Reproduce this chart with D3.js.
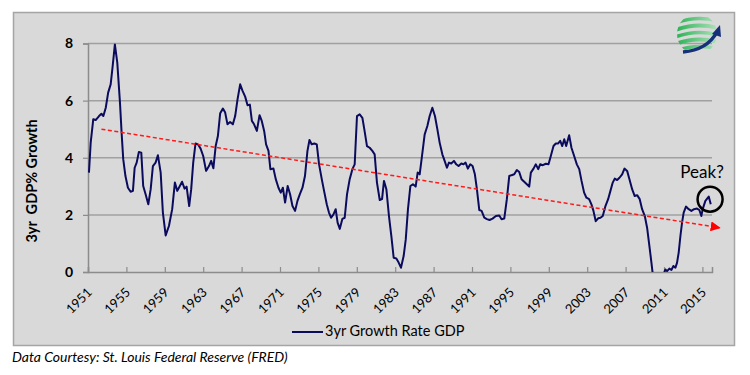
<!DOCTYPE html>
<html>
<head>
<meta charset="utf-8">
<script src="https://cdn.jsdelivr.net/npm/d3@7"></script>
<style>
  body { margin: 0; background: #fff; }
  #wrapper { width: 750px; height: 375px; }
  text { font-family: Lato, "Open Sans", sans-serif; }
</style>
</head>
<body>
<div id="wrapper"></div>
<script>
// data: 3yr growth rate of GDP (quarterly-ish points)
const years = [
  1951.1, 1951.28, 1951.55, 1951.8, 1952.15, 1952.4, 1952.6, 1952.85, 1953.1, 1953.36,
  1953.57, 1953.8, 1954.05, 1954.33, 1954.5, 1954.67, 1954.9, 1955.16, 1955.44, 1955.68,
  1955.86, 1956.07, 1956.3, 1956.55, 1956.75, 1957.0, 1957.28, 1957.53, 1957.76, 1958.04,
  1958.28, 1958.57, 1958.8, 1959.09, 1959.43, 1959.77, 1960.05, 1960.3, 1960.54, 1960.8,
  1961.06, 1961.27, 1961.54, 1961.75, 1961.96, 1962.2, 1962.45, 1962.73, 1963.0, 1963.3,
  1963.6, 1963.83, 1964.06, 1964.3, 1964.53, 1964.77, 1965.05, 1965.29, 1965.53, 1965.8,
  1966.09, 1966.33, 1966.58, 1966.85, 1967.1, 1967.37, 1967.62, 1967.86, 1968.07, 1968.3,
  1968.59, 1968.87, 1969.1, 1969.35, 1969.55, 1969.8, 1970.0, 1970.32, 1970.56, 1970.84,
  1971.08, 1971.3, 1971.53, 1971.8, 1972.05, 1972.3, 1972.57, 1972.82, 1973.06, 1973.34,
  1973.6, 1973.86, 1974.07, 1974.3, 1974.59, 1974.83, 1975.07, 1975.35, 1975.59, 1975.87,
  1976.1, 1976.32, 1976.57, 1976.8, 1977.0, 1977.23, 1977.5, 1977.74, 1977.98, 1978.26,
  1978.54, 1978.78, 1979.02, 1979.3, 1979.58, 1979.78, 1980.06, 1980.34, 1980.62, 1980.86,
  1981.1, 1981.39, 1981.63, 1981.83, 1982.08, 1982.35, 1982.6, 1982.84, 1983.12, 1983.36,
  1983.6, 1983.88, 1984.1, 1984.33, 1984.58, 1984.85, 1985.13, 1985.34, 1985.55, 1985.79,
  1986.07, 1986.35, 1986.59, 1986.87, 1987.14, 1987.39, 1987.63, 1987.91, 1988.15, 1988.39,
  1988.6, 1988.84, 1989.12, 1989.36, 1989.6, 1989.89, 1990.12, 1990.33, 1990.57, 1990.82,
  1991.06, 1991.3, 1991.51, 1991.76, 1992.0, 1992.28, 1992.55, 1992.83, 1993.14, 1993.49,
  1993.84, 1994.08, 1994.36, 1994.63, 1994.88, 1995.12, 1995.4, 1995.67, 1995.92, 1996.16,
  1996.44, 1996.71, 1996.96, 1997.13, 1997.41, 1997.65, 1997.9, 1998.1, 1998.38, 1998.69,
  1998.97, 1999.21, 1999.49, 1999.73, 1999.98, 2000.19, 2000.4, 2000.61, 2000.81, 2001.12,
  2001.36, 2001.64, 2001.92, 2002.17, 2002.41, 2002.68, 2002.92, 2003.2, 2003.44, 2003.65,
  2003.89, 2004.14, 2004.38, 2004.62, 2004.9, 2005.18, 2005.42, 2005.66, 2005.87, 2006.12,
  2006.36, 2006.64, 2006.88, 2007.16, 2007.4, 2007.68, 2007.95, 2008.2, 2008.47, 2008.72,
  2009.0, 2009.24, 2009.48, 2009.69, 2009.83, 2010.1, 2010.4, 2010.7, 2010.97, 2011.14,
  2011.32, 2011.56, 2011.77, 2011.98, 2012.19, 2012.36, 2012.53, 2012.71, 2012.88, 2013.05,
  2013.29, 2013.57, 2013.85, 2014.13, 2014.44, 2014.68, 2014.89, 2015.03, 2015.31, 2015.66,
  2015.87
];
const growth = [
  3.48, 4.53, 5.35, 5.32, 5.46, 5.54, 5.46, 5.75, 6.28, 6.57,
  7.21, 7.97, 7.33, 5.93, 4.88, 3.95, 3.36, 2.95, 2.81, 2.84,
  3.65, 3.83, 4.2, 4.18, 3.01, 2.72, 2.37, 2.9, 3.71, 3.83,
  4.09, 3.48, 2.08, 1.28, 1.61, 2.2, 3.13, 2.84, 2.99, 3.16,
  2.92, 2.99, 2.31, 2.9, 3.83, 4.5, 4.47, 4.32, 4.06, 3.54,
  3.71, 3.89, 3.63, 4.41, 4.76, 5.56, 5.72, 5.58, 5.17, 5.25,
  5.17, 5.46, 6.05, 6.57, 6.34, 6.14, 5.84, 5.86, 5.29, 5.17,
  4.94, 5.49, 5.29, 4.94, 4.47, 4.24, 3.6, 3.62, 3.25, 2.95,
  2.78, 2.95, 2.43, 3.01, 2.72, 2.31, 2.14, 2.49, 2.72, 2.95,
  3.36, 4.24, 4.62, 4.47, 4.5, 4.47, 3.77, 3.25, 2.84, 2.37,
  2.08, 1.9, 2.02, 2.2, 1.73, 1.51, 1.86, 1.9, 2.72, 3.25,
  3.6, 3.77, 5.46, 5.52, 5.4, 5.0, 4.41, 4.35, 4.24, 4.12,
  3.13, 2.52, 2.55, 3.19, 2.9, 1.96, 1.26, 0.5, 0.47, 0.33,
  0.15, 0.56, 1.14, 2.2, 3.01, 3.07, 2.99, 3.48, 3.42, 4.06,
  4.82, 5.11, 5.46, 5.75, 5.46, 5.0, 4.53, 4.12, 3.89, 3.65,
  3.83, 3.8, 3.89, 3.77, 3.71, 3.8, 3.77, 3.83, 3.62, 3.77,
  3.71, 3.42, 2.9, 2.17, 2.14, 1.9, 1.85, 1.82, 1.87, 1.96,
  1.98, 1.85, 1.87, 2.55, 3.36, 3.39, 3.42, 3.57, 3.5, 3.25,
  3.16, 3.07, 2.99, 3.48, 3.62, 3.77, 3.6, 3.77, 3.74, 3.79,
  3.77, 4.06, 4.41, 4.5, 4.5, 4.59, 4.41, 4.65, 4.41, 4.79,
  4.35, 4.06, 3.77, 3.6, 3.19, 2.78, 2.6, 2.55, 2.37, 2.14,
  1.78, 1.88, 1.9, 1.96, 2.31, 2.55, 2.84, 3.13, 3.27, 3.22,
  3.3, 3.42, 3.62, 3.54, 3.25, 2.9, 2.66, 2.69, 2.55, 2.2,
  1.96, 1.55, 0.91, 0.33, -0.08, -0.45, -0.5, -0.3, -0.08, 0.09,
  0.03, 0.12, 0.07, 0.21, 0.15, 0.33, 0.68, 1.26, 1.73, 2.08,
  2.29, 2.2, 2.14, 2.2, 2.22, 2.17, 1.96, 2.2, 2.49, 2.64,
  2.37
];
const tickYears = d3.range(1951, 2016, 4);
const yTicks = [0, 2, 4, 6, 8];
const trendYears = [1952.4, 2016.8];
const trendValues = [5.0, 1.55];
const peakYear = 2015.8;
const peakValue = 2.55;

function drawChart() {
    const dimensions = {
        width: 750,
        height: 375,
        margin: { top: 43.5, right: 38, bottom: 103, left: 88 },
    };
    dimensions.boundedWidth = dimensions.width - dimensions.margin.left - dimensions.margin.right;
    dimensions.boundedHeight = dimensions.height - dimensions.margin.top - dimensions.margin.bottom;

    const svg = d3.select("#wrapper")
        .append("svg")
        .attr("width", dimensions.width)
        .attr("height", dimensions.height);

    // chart area box
    svg.append("rect")
        .attr("x", 13.5).attr("y", 12.5)
        .attr("width", 721).attr("height", 333)
        .attr("fill", "#d9d9d9")
        .attr("stroke", "#a5a5a5")
        .attr("stroke-width", 1.5);

    const bounds = svg.append("g")
        .attr("transform", `translate(${dimensions.margin.left},${dimensions.margin.top})`);

    const xScale = d3.scaleLinear()
        .domain([1951, 2016])
        .range([0, dimensions.boundedWidth]);
    const yScale = d3.scaleLinear()
        .domain([0, 8])
        .range([dimensions.boundedHeight, 0]);

    // gridlines
    bounds.append("g")
        .selectAll("line")
        .data(yTicks.filter(d => d > 0))
        .join("line")
        .attr("x1", 0)
        .attr("x2", dimensions.boundedWidth)
        .attr("y1", d => yScale(d))
        .attr("y2", d => yScale(d))
        .attr("stroke", "#a0a0a0")
        .attr("stroke-width", 1.5);

    // y axis
    const yAxis = bounds.append("g")
        .call(d3.axisLeft(yScale).tickValues(yTicks).tickSize(5).tickPadding(10));
    yAxis.select(".domain").attr("stroke", "#8c8c8c").attr("stroke-width", 1.5);
    yAxis.selectAll(".tick line").attr("stroke", "#8c8c8c").attr("stroke-width", 1.2);
    yAxis.selectAll(".tick text")
        .attr("fill", "#000")
        .style("font-size", "14px")
        .style("font-weight", "bold");

    yAxis.append("text")
        .attr("transform", `translate(${33 - dimensions.margin.left},${181 - dimensions.margin.top}) rotate(-90)`)
        .attr("text-anchor", "middle")
        .attr("dominant-baseline", "middle")
        .attr("fill", "#000")
        .style("font-size", "14.5px")
        .style("font-weight", "bold")
        .text("3yr\u00a0 GDP% Growth");

    // x axis
    const xAxis = bounds.append("g")
        .attr("transform", `translate(0,${dimensions.boundedHeight})`)
        .call(d3.axisBottom(xScale).tickValues(tickYears).tickSize(-5).tickFormat(d3.format("d")));
    xAxis.select(".domain").attr("stroke", "#8c8c8c").attr("stroke-width", 1.5);
    xAxis.selectAll(".tick line").attr("stroke", "#8c8c8c").attr("stroke-width", 1.2);
    xAxis.selectAll(".tick text")
        .attr("x", 0).attr("y", 0).attr("dy", "0.35em")
        .attr("text-anchor", "end")
        .attr("transform", "translate(1,18) rotate(-45)")
        .attr("fill", "#000")
        .style("font-size", "13px");

    // data line, clipped to the plot area
    svg.append("defs").append("clipPath")
        .attr("id", "plot-clip")
        .append("rect")
        .attr("width", dimensions.boundedWidth)
        .attr("height", dimensions.boundedHeight);

    const lineGenerator = d3.line()
        .x((d, i) => xScale(years[i]))
        .y(d => yScale(d));

    bounds.append("path")
        .attr("clip-path", "url(#plot-clip)")
        .attr("d", lineGenerator(growth))
        .attr("fill", "none")
        .attr("stroke", "#0b0b5e")
        .attr("stroke-width", 2)
        .attr("stroke-linejoin", "round");

    // trend arrow
    svg.select("defs").append("marker")
        .attr("id", "arrow")
        .attr("viewBox", "0 0 10 10")
        .attr("refX", 9).attr("refY", 5)
        .attr("markerWidth", 10).attr("markerHeight", 10)
        .attr("markerUnits", "userSpaceOnUse")
        .attr("orient", "auto")
        .append("path")
        .attr("d", "M0,0 L10,5 L0,10 z")
        .attr("fill", "#ff0000");

    bounds.append("line")
        .attr("x1", xScale(trendYears[0]))
        .attr("y1", yScale(trendValues[0]))
        .attr("x2", xScale(trendYears[1]))
        .attr("y2", yScale(trendValues[1]))
        .attr("stroke", "#ff1a1a")
        .attr("stroke-width", 1.5)
        .attr("stroke-dasharray", "4,2.5")
        .attr("marker-end", "url(#arrow)");

    // peak annotation
    bounds.append("circle")
        .attr("cx", xScale(peakYear))
        .attr("cy", yScale(peakValue))
        .attr("r", 12.5)
        .attr("fill", "none")
        .attr("stroke", "#000")
        .attr("stroke-width", 2.5);
    bounds.append("text")
        .attr("x", xScale(peakYear) - 8)
        .attr("y", yScale(peakValue) - 25)
        .attr("text-anchor", "middle")
        .attr("dominant-baseline", "middle")
        .attr("fill", "#000")
        .style("font-size", "17px")
        .text("Peak?");

    // legend
    const legend = svg.append("g").attr("transform", "translate(292,332)");
    legend.append("line")
        .attr("x1", 0).attr("x2", 31)
        .attr("stroke", "#0b0b5e").attr("stroke-width", 2);
    legend.append("text")
        .attr("x", 33)
        .attr("dominant-baseline", "middle")
        .attr("fill", "#000")
        .style("font-size", "14.5px")
        .text("3yr Growth Rate GDP");

    // source note
    svg.append("text")
        .attr("x", 12).attr("y", 362)
        .attr("fill", "#000")
        .style("font-size", "14px")
        .style("font-style", "italic")
        .text("Data Courtesy: St. Louis Federal Reserve (FRED)");

    // logo, top right
    const logo = svg.append("g").attr("transform", "translate(697,34)");
    const grad = svg.select("defs").append("linearGradient")
        .attr("id", "green-grad").attr("x1", "0").attr("x2", "1");
    grad.append("stop").attr("offset", "0").attr("stop-color", "#1fae4b");
    grad.append("stop").attr("offset", "1").attr("stop-color", "#b9e6c4");
    svg.select("defs").append("clipPath").attr("id", "logo-clip")
        .append("circle").attr("r", 20);
    const bands = logo.append("g").attr("clip-path", "url(#logo-clip)");
    [-14, -7, 0, 7, 14].forEach((dy, i) => {
        bands.append("path")
            .attr("d", `M-24,${dy + 4} Q0,${dy - 6} 24,${dy + 2}`)
            .attr("fill", "none")
            .attr("stroke", "url(#green-grad)")
            .attr("stroke-width", i % 2 ? 4 : 3.5);
    });
    logo.append("path")
        .attr("d", "M-14,18 Q10,16 20,-2")
        .attr("fill", "none")
        .attr("stroke", "#17307a")
        .attr("stroke-width", 3.5);
    logo.append("path")
        .attr("d", "M23,-9 L24,3 L15,0 z")
        .attr("fill", "#17307a");
}

drawChart();
</script>
</body>
</html>
